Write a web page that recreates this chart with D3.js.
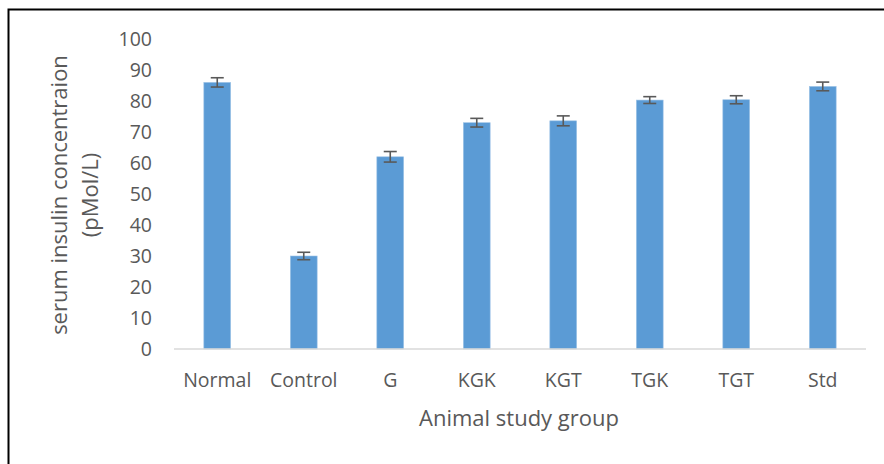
<!DOCTYPE html>
<html>
<head>
<meta charset="utf-8">
<script src="https://cdn.jsdelivr.net/npm/d3@7"></script>
<style>
  html, body { margin: 0; padding: 0; background: #fff; }
  svg { display: block; }
  text { font-family: "Open Sans", sans-serif; fill: #595959; }
</style>
</head>
<body>
<svg id="chart" width="884" height="464"></svg>
<script>
const categories = ["Normal", "Control", "G", "KGK", "KGT", "TGK", "TGT", "Std"];
const values = [86.0, 30.0, 62.0, 73.0, 73.6, 80.3, 80.4, 84.7];
const errors = [1.5, 1.2, 1.7, 1.4, 1.6, 1.1, 1.3, 1.4];
const yTicks = [0, 10, 20, 30, 40, 50, 60, 70, 80, 90, 100];
const yTitleLines = ["serum insulin concentraion", "(pMol/L)"];
const xTitle = "Animal study group";

const svg = d3.select("#chart");
const W = 884, H = 464;
const plotLeft = 174, plotRight = 866, plotTop = 39, plotBottom = 349;

// outer border
svg.append("rect")
  .attr("x", 8.5).attr("y", 9.5)
  .attr("width", W).attr("height", H)
  .attr("fill", "none").attr("stroke", "#000").attr("stroke-width", 2);

const x = d3.scaleBand().domain(categories).range([plotLeft, plotRight]).paddingInner(0.69).paddingOuter(0.345);
const y = d3.scaleLinear().domain([0, 100]).range([plotBottom, plotTop]);

// y tick labels
const yAxis = d3.axisLeft(y).tickValues(yTicks).tickSize(0).tickPadding(0);
const gy = svg.append("g").attr("transform", "translate(152,0)").call(yAxis);
gy.select(".domain").remove();
gy.selectAll("text").style("font-family", "'Open Sans', sans-serif").style("font-size", "19.5px").attr("fill", "#595959");

// bars
svg.append("g").selectAll("rect").data(categories).join("rect")
  .attr("x", d => x(d))
  .attr("width", x.bandwidth())
  .attr("y", (d, i) => y(values[i]))
  .attr("height", (d, i) => y(0) - y(values[i]))
  .attr("fill", "#5B9BD5")
  .attr("stroke", "#9DC3E6").attr("stroke-width", 0.6);

// x axis
const xAxis = d3.axisBottom(x).tickSize(0).tickPadding(0);
const gx = svg.append("g").attr("transform", `translate(0,${plotBottom})`).call(xAxis);
gx.select(".domain").attr("stroke", "#d9d9d9").attr("stroke-width", 1.5)
  .attr("d", `M${plotLeft},0H${plotRight}`);
gx.selectAll("text").attr("dy", "1.95em").style("font-family", "'Open Sans', sans-serif").style("font-size", "19.5px").attr("fill", "#595959");

// error bars
const eg = svg.append("g").attr("stroke", "#595959").attr("stroke-width", 1.6);
categories.forEach((c, i) => {
  const cx = x(c) + x.bandwidth() / 2;
  const y1 = y(values[i] + errors[i]), y2 = y(values[i] - errors[i]);
  eg.append("line").attr("x1", cx).attr("x2", cx).attr("y1", y1).attr("y2", y2);
  eg.append("line").attr("x1", cx - 6.5).attr("x2", cx + 6.5).attr("y1", y1).attr("y2", y1);
  eg.append("line").attr("x1", cx - 6.5).attr("x2", cx + 6.5).attr("y1", y2).attr("y2", y2);
});

// axis titles
svg.append("text")
  .attr("x", 519).attr("y", 426)
  .attr("text-anchor", "middle").style("font-size", "22px")
  .text(xTitle);

const yt = svg.append("text")
  .attr("transform", "translate(67,195) rotate(-90)")
  .attr("text-anchor", "middle").style("font-size", "22px");
yTitleLines.forEach((t, i) => {
  yt.append("tspan").attr("x", 0).attr("dy", i === 0 ? 0 : 31).text(t);
});
</script>
</body>
</html>
